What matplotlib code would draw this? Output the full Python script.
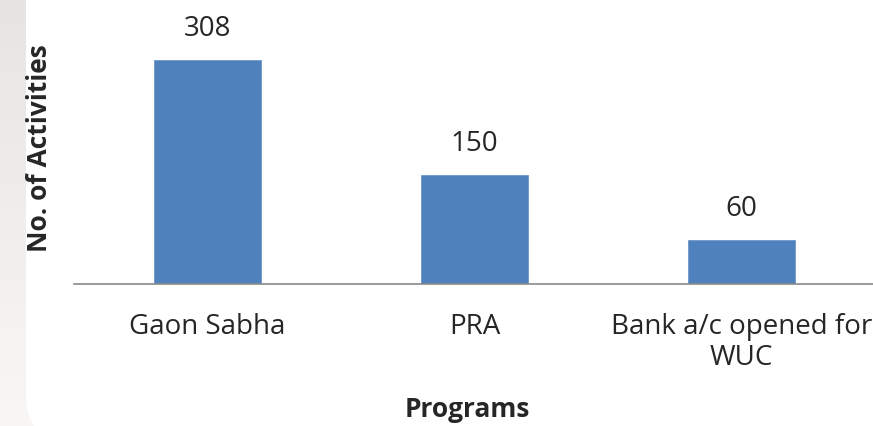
import numpy as np
import matplotlib
matplotlib.use('Agg')
import matplotlib.pyplot as plt
from matplotlib.patches import FancyBboxPatch

programs = ['Gaon Sabha', 'PRA', 'Bank a/c opened for\nWUC']
activities = [308, 150, 60]

bar_color = '#4f81bd'
text_color = '#262626'

plt.rcParams['font.family'] = ['Open Sans', 'DejaVu Sans']

W, H = 873, 427
fig = plt.figure(figsize=(W / 100, H / 100), dpi=100)
fig.patch.set_facecolor('white')

# background: grey strip at left with a rounded white panel over it
bg = fig.add_axes([0, 0, 1, 1], zorder=-1)
bg.set_xlim(0, W)
bg.set_ylim(H, 0)
bg.axis('off')
grad = np.linspace(0, 1, 100).reshape(-1, 1)
bg.imshow(grad, cmap=matplotlib.colors.LinearSegmentedColormap.from_list(
    'g', ['#e7e5e2', '#f9f7f5']), extent=[0, 40, H, 0], aspect='auto')
panel = FancyBboxPatch((26, -60), W + 40, H + 75,
                       boxstyle='round,pad=0,rounding_size=45',
                       fc='white', ec='none')
bg.add_patch(panel)

# main axes: x from 74px to 875px, baseline at y=285px
ax = fig.add_axes([74 / W, (H - 285) / H, 801 / W, 285 / H])
ax.patch.set_alpha(0)
x = np.arange(len(programs))
ax.bar(x, activities, width=0.4, color=bar_color, edgecolor='#6f97cc', linewidth=0.6)
ax.set_xlim(-0.5, 2.5)
ax.set_ylim(0, 285 / 0.7273)

for xi, v in zip(x, activities):
    ax.annotate(str(v), (xi, v), xytext=(0, 13), textcoords='offset points',
                ha='center', va='bottom', fontsize=20, color=text_color,
                annotation_clip=False)

for s in ['top', 'right', 'left']:
    ax.spines[s].set_visible(False)
ax.spines['bottom'].set_color('#8a8a8a')
ax.spines['bottom'].set_linewidth(1.2)
ax.set_yticks([])
ax.set_xticks(x)
ax.set_xticklabels(programs, fontsize=20, color=text_color, linespacing=1.15)
ax.tick_params(axis='x', length=0, pad=20)

fig.text(467 / W, 1 - 410 / H, 'Programs', ha='center', va='center',
         fontsize=19, fontweight='bold', color=text_color)
fig.text(40 / W, 1 - 148 / H, 'No. of Activities', ha='center', va='center',
         rotation=90, fontsize=19, fontweight='bold', color=text_color)

fig.savefig('out.png', dpi=100)
